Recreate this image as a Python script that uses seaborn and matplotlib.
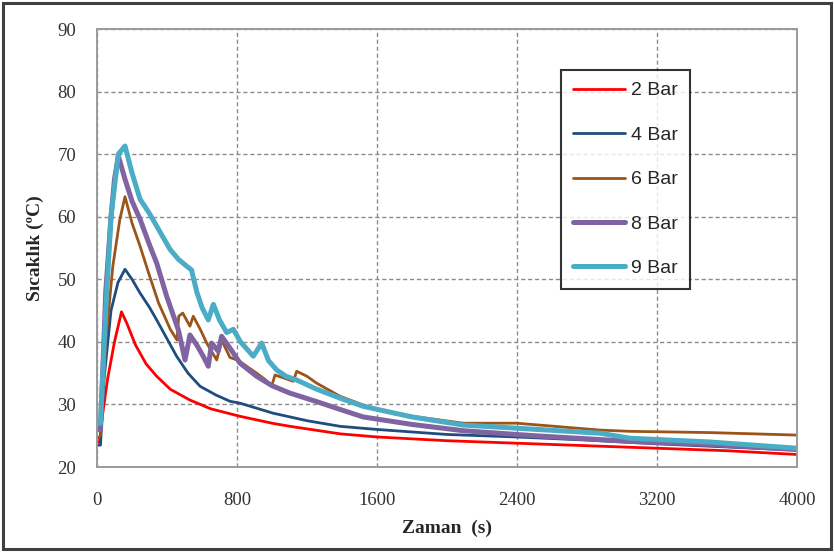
import matplotlib
matplotlib.use("Agg")
import matplotlib.pyplot as plt
from matplotlib.patches import Rectangle
import seaborn as sns
import pandas as pd

# Temperature vs time readings for each pressure level
t_2bar = [0, 15, 30, 60, 100, 140, 170, 220, 280, 341, 420, 531, 650, 817, 1000, 1103,
          1389, 1600, 2000, 2400, 2800, 3200, 3600, 4000]
T_2bar = [24, 24, 28, 34, 40, 44.8, 43, 39.5, 36.5, 34.5, 32.4, 30.7, 29.3, 28.1, 27.0, 26.5,
          25.3, 24.8, 24.2, 23.8, 23.4, 23.0, 22.6, 22.0]

t_4bar = [0, 20, 40, 80, 120, 160, 200, 246, 300, 341, 400, 455, 520, 589, 680, 760, 817,
          900, 1006, 1200, 1389, 1600, 2000, 2400, 2800, 3200, 3600, 4000]
T_4bar = [23.5, 23.5, 34, 45, 49.5, 51.6, 50, 47.8, 45.5, 43.5, 40.5, 37.7, 35, 32.9, 31.5,
          30.5, 30.2, 29.5, 28.6, 27.4, 26.5, 26, 25.2, 24.8, 24.3, 23.7, 23.2, 22.7]

t_6bar = [0, 20, 50, 90, 130, 160, 200, 246, 295, 352, 419, 457, 467, 490, 531, 550, 590,
          627, 684, 712, 760, 810, 855, 912, 960, 998, 1017, 1070, 1122, 1141, 1200, 1255,
          1389, 1522, 1700, 2093, 2398, 2874, 3046, 3500, 4000]
T_6bar = [24.5, 25, 40, 52, 59.5, 63.2, 59, 55.3, 51, 46.2, 42, 40.3, 44.1, 44.6, 42.5, 44.1,
          42, 39.8, 37.1, 40.3, 37.5, 37, 36.1, 35, 34, 32.9, 34.7, 34.2, 33.7, 35.3, 34.5,
          33.4, 31.3, 29.9, 28.5, 27, 27, 25.9, 25.7, 25.5, 25.1]

t_8bar = [0, 20, 50, 80, 100, 122, 160, 200, 246, 300, 341, 398, 465, 503, 531, 570, 607,
          636, 655, 693, 712, 760, 817, 912, 1000, 1103, 1250, 1389, 1521, 1800, 2093, 2500,
          3046, 3500, 4000]
T_8bar = [26, 26, 48, 60, 66, 69.7, 66, 62.5, 59.6, 55.5, 52.6, 47.3, 41.9, 37.1, 41.1, 39.5,
          37.7, 36.1, 39.8, 38.5, 40.9, 39, 36.6, 34.5, 33, 31.8, 30.5, 29.2, 28.0, 26.8, 25.8,
          25, 24.1, 23.6, 22.8]

t_9bar = [0, 20, 50, 80, 122, 160, 200, 246, 300, 341, 417, 465, 512, 540, 570, 600, 636,
          665, 700, 741, 779, 820, 893, 941, 980, 1027, 1080, 1141, 1250, 1389, 1521, 1800,
          2093, 2398, 2874, 3046, 3500, 4000]
T_9bar = [27, 27, 45, 60, 70, 71.3, 67, 62.8, 60.5, 58.5, 54.8, 53.2, 52.1, 51.5, 48, 45.5,
          43.5, 46, 43.5, 41.5, 42, 40, 37.7, 39.8, 37, 35.5, 34.5, 33.9, 32.5, 31, 29.7, 28,
          26.7, 26.2, 25.4, 24.6, 24, 23]

labels = ["2 Bar", "4 Bar", "6 Bar", "8 Bar", "9 Bar"]
x_ticks = [0, 800, 1600, 2400, 3200, 4000]
y_ticks = [20, 30, 40, 50, 60, 70, 80, 90]

series = [(t_2bar, T_2bar), (t_4bar, T_4bar), (t_6bar, T_6bar), (t_8bar, T_8bar), (t_9bar, T_9bar)]
colors = ["#FF0000", "#1F4E7E", "#9C5418", "#8064A2", "#4BACC6"]
widths = [2.0, 2.0, 2.0, 3.6, 3.6]

sns.set_style("white")
serif = "Liberation Serif"

fig = plt.figure(figsize=(8.34, 5.52), dpi=100)
ax = fig.add_axes([97 / 834, 85 / 552, 700 / 834, 438 / 552])

for (tt, TT), lab, col, lw in zip(series, labels, colors, widths):
    df = pd.DataFrame({"Zaman": tt, "Sicaklik": TT})
    sns.lineplot(data=df, x="Zaman", y="Sicaklik", ax=ax, color=col, linewidth=lw,
                 label=lab, sort=False, estimator=None)

ax.set_xlim(0, 4000)
ax.set_ylim(20, 90)
ax.set_xticks(x_ticks)
ax.set_yticks(y_ticks)
ax.grid(True, color="#8C8C8C", linestyle=(0, (3, 2)), linewidth=1.0)
ax.set_axisbelow(True)

for s in ax.spines.values():
    s.set_visible(True)
    s.set_color("#9A9A9A")
    s.set_linewidth(1.4)

ax.tick_params(axis="both", direction="out", length=5, width=1.2, color="#9A9A9A",
               labelsize=13.5)
ax.tick_params(axis="x", pad=13)
ax.tick_params(axis="y", pad=10)
for lbl in ax.get_xticklabels() + ax.get_yticklabels():
    lbl.set_fontfamily(serif)
    lbl.set_color("#333333")

ax.set_xlabel("Zaman  (s)", fontfamily=serif, fontweight="bold", fontsize=14, labelpad=8)
ax.set_ylabel("Sıcaklık (ºC)", fontfamily=serif, fontweight="bold", fontsize=14, labelpad=10)

leg = ax.legend(loc="upper left", bbox_to_anchor=(0.663, 0.906), frameon=True,
                fancybox=False, shadow=False, fontsize=14, labelspacing=1.38,
                handlelength=2.7, handletextpad=0.3, borderpad=0.6, borderaxespad=0)
leg.get_frame().set_edgecolor("black")
leg.get_frame().set_linewidth(1.5)
for txt in leg.get_texts():
    txt.set_fontfamily("Liberation Sans")

# outer frame around the whole figure
fig.patches.append(Rectangle((0.004, 0.006), 0.992, 0.988, transform=fig.transFigure,
                             fill=False, edgecolor="#404040", linewidth=2.2))

fig.savefig("out.png", dpi=100)
